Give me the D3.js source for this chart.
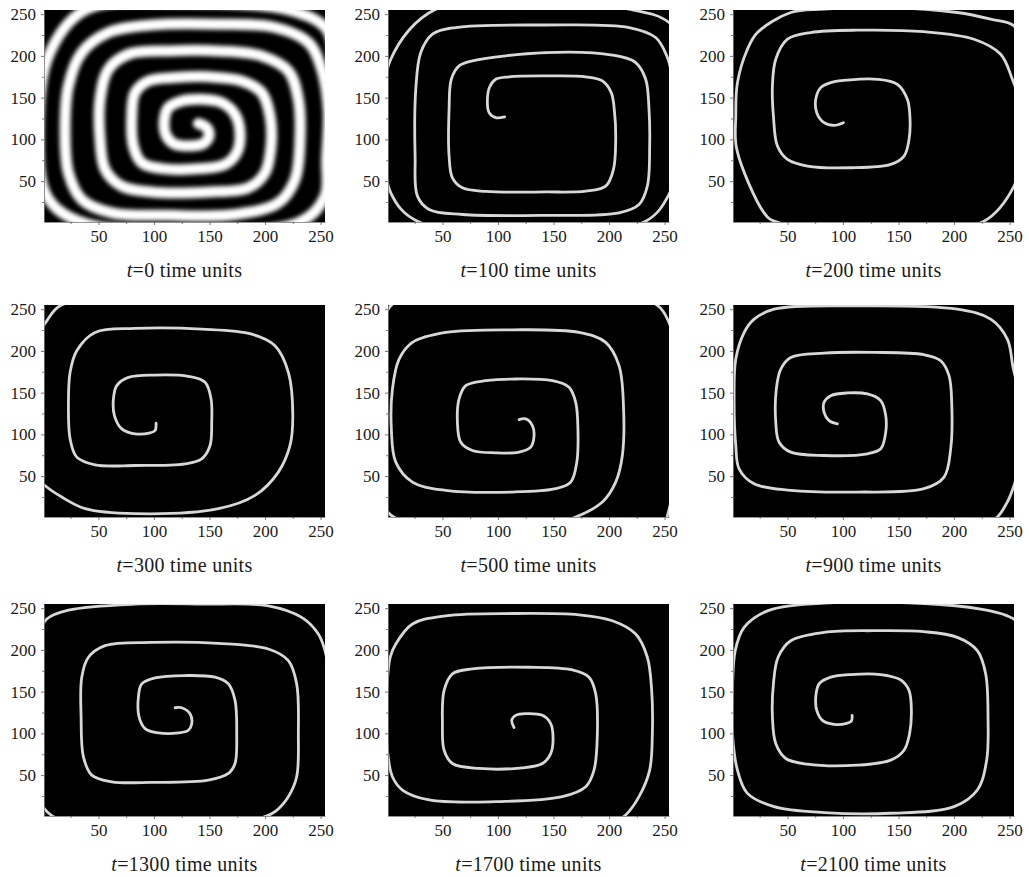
<!DOCTYPE html>
<html>
<head>
<meta charset="utf-8">
<script src="https://cdn.jsdelivr.net/npm/d3@7"></script>
<style>
  html, body { margin: 0; padding: 0; background: #fff; }
  svg { display: block; }
  .tick text { font-family: "Liberation Serif", "DejaVu Serif", serif; font-size: 17px; fill: #1a1a1a; }
  .caption { font-family: "Liberation Serif", "DejaVu Serif", serif; font-size: 20px; letter-spacing: 0.3px; fill: #1a1a1a; }
</style>
</head>
<body>
<svg id="chart" width="1029" height="877"></svg>
<script>
// Snapshot times of the simulation (one panel each)
const times = [0, 100, 200, 300, 500, 900, 1300, 1700, 2100];

// Axis ticks (grid cell index)
const majorTicks = [50, 100, 150, 200, 250];
const minorTicks = [25, 75, 125, 175, 225];

// Wave-front traces, from the spiral tip outward (grid coordinates)
const front_t0 = [[140,119],[147.5,114],[149.6,104],[144.5,95],[131,92],[117.5,95],[110.6,106],[109.4,124],[113,138],[125,146],[143,148],[161,144],[173,130],[177.5,108],[174.5,84],[164,70],[143,65],[107,65],[89,72],[81.5,92],[80,128],[83,156],[95,170],[119,174],[149,175],[179,170],[197,156],[204.5,128],[205.4,92],[200,60],[185,42],[149,37],[98,37],[71,44],[56,64],[51.5,100],[51.5,148],[59,184],[77,202],[113,206],[158,206],[197,200],[221,182],[230,148],[231.5,100],[227,52],[212,24],[173,10],[113,9],[62,12],[35,28],[23,60],[20,108],[23,164],[35,204],[59,228],[98,237],[158,238],[209,234],[239,216],[251,184],[257,136],[255.5,76],[254,32],[233,2],[143,-12],[32,2],[3.5,32],[-4,108],[5,200],[38,255],[131,264],[224,254],[255.5,232],[263,188]];
const front_t100 = [[106,127],[98,126],[92,132],[90.5,148],[92.6,163],[98,172],[110,175],[143,176],[179,175],[194,170],[202,156],[205,132],[206,100],[204,64],[197,44],[179,38],[143,37],[89,37.6],[68,42],[59,54],[56,80],[56,136],[58,172],[65,188],[77,194],[143,204],[203,201],[224,192],[233,172],[236,136],[236.6,92],[234.5,44],[227,22],[209,12],[143,9],[68,10],[38,16],[27.5,32],[25.4,80],[26,160],[30.5,204],[41,226],[62,234],[143,237],[218,234],[242,222],[252,200],[256,182],[264,140],[265,90],[254,34],[233,2],[143,-12],[27.5,2],[3.5,36],[-3,110],[3.5,196],[44,256],[143,262],[218,256],[254,240],[270,200]];
const front_t200 = [[100.4,120],[92,116.8],[83,120],[76.4,132],[75.5,148],[80,162],[89,168],[104,171],[131,172],[149,166],[158,148],[160.4,124],[159.5,100],[155,80],[143,70],[107,66],[68,68],[50,76],[41,92],[37.4,128],[36.5,164],[39.5,196],[50,220],[71,228],[113,230.8],[173,229],[218,220],[242,202],[252.5,172],[261,136],[262,88],[254,44],[227,2],[143,-12],[38,2],[29,12],[4.4,88],[3.5,128],[5,168],[14,208],[23,228],[53,252],[83,256],[143,258],[203,252],[233,244],[254,236],[265,200]];
const front_t300 = [[101.9,113.3],[101,104.6],[96.5,101.8],[83,100.6],[71,106.6],[64.4,122.5],[63.5,142.4],[66.5,158.4],[77,168.3],[101,171.1],[131,169.5],[146,162.4],[151.4,142.4],[152,114.5],[150.5,86.7],[143,70.7],[128,64.7],[83,62.7],[47,63.5],[30.5,72.7],[24.5,94.6],[23,134.5],[24.5,174.3],[30.5,200.2],[47,222.1],[83,226.9],[143,226.1],[188,220.1],[209,206.2],[221,174.3],[225,122.5],[222.5,86.7],[212,54.8],[191,26.9],[158,11],[83,5],[38,11],[17,24.9],[3.5,36.9],[-7,50.8],[-17,114],[-12,200],[3.5,236],[15.5,254],[80,272]];
const front_t500 = [[119,117.7],[125,118.5],[131,110.6],[132.5,98.6],[129.5,84.7],[119,78.7],[98,77.9],[77,80.7],[66.5,90.6],[63.5,114.5],[65,142.4],[71,158.4],[89,164.3],[113,166.3],[149,164.3],[164,156.4],[170,138.4],[172,106.6],[171,66.7],[165.5,42.8],[152,34.9],[113,30.9],[53,32.9],[23,42.8],[8,66.7],[4,106.6],[5,154.4],[11,190.2],[23,210.2],[53,222.1],[113,225.3],[173,222.1],[197,210.2],[209,182.3],[213,134.5],[212,74.7],[206,42.8],[194,18.9],[170,1],[128,-13],[53,-13],[4,3],[-10,35],[-16,114.5],[-14,200],[12,264],[113,270],[203,266],[242,256],[254,234],[262,190],[265,120],[262,60],[255,15],[251,-5]];
const front_t900 = [[95,112.5],[87.5,116.5],[83,126.5],[83,138.4],[89,146.4],[104,149.6],[122,148.4],[134,140.4],[138.5,122.5],[138.5,102.6],[134,82.7],[122,76.7],[83,74.7],[53,78.7],[42.5,90.6],[39.5,114.5],[40,154.4],[44,178.3],[53,192.2],[83,197.4],[128,198.2],[173,195.4],[188,188.2],[195.5,170.3],[198,134.5],[197,82.7],[191,48.8],[173,34.9],[113,30.9],[53,32.9],[20,40.8],[6.5,58.8],[3.5,86.7],[2,142.4],[3.5,190.2],[11,222],[20,238],[38,250],[113,254],[203,250],[233,238],[248,214],[253.4,178.3],[261,134.5],[261,74.7],[254,38.8],[248,18.9],[239,1],[225,-10]];
const front_t1300 = [[119,130.7],[125,130.7],[132.5,123.6],[134,111.6],[131,103.7],[122,100.5],[104,100.5],[92,105.7],[86.6,119.6],[86,143.4],[89,159.3],[101,166.5],[128,169.3],[155,167.3],[167,159.3],[173,139.5],[174.5,99.7],[173,63.9],[167,52],[149,44],[98,41.3],[62,42],[44,50],[36.5,71.9],[34.4,119.6],[35,167.3],[41,191.2],[56,205.1],[98,209],[158,207.9],[203,201.1],[221,187.2],[228.5,159.3],[230,99.7],[228.5,48],[221,24.2],[209,6.3],[200,0.3],[158,-11.6],[53,-11.6],[8,1.5],[-4,24],[-8.5,119.6],[-4,219],[3.5,237],[23,247.6],[83,254.8],[143,254.8],[203,252.8],[233,238.9],[248,219],[254,199],[260,159]];
const front_t1700 = [[114.5,106.9],[112.4,115.6],[116,121.6],[125,123.6],[140,121.6],[147.5,111.6],[149.6,91.7],[147.5,75.8],[140,63.9],[122,58.7],[83,58],[59,63.9],[51.5,79.8],[50,111.6],[51.5,151.4],[59,171.3],[77,177.2],[128,179.2],[167,176],[182,167.3],[188,147.4],[189.5,99.7],[186.5,56],[179,36.1],[158,24.2],[98,18.2],[38,20.2],[14,32.1],[5,48],[0.5,79.8],[-0.4,139.5],[3,191.2],[8,207],[23,231],[53,240.9],[113,243.6],[173,242],[203,234.9],[224,219],[234.5,191.2],[238.4,151.4],[239,99.7],[236.6,56],[227,24.2],[215,2.3],[200,-10]];
const front_t2100 = [[108.2,121.6],[107.6,114.8],[102.5,111.6],[92,110.8],[81.5,115.6],[76.4,127.5],[75.5,143.4],[78.5,159.3],[89,167.3],[107,170.5],[134,170.5],[152,164.1],[159.5,151.4],[161.6,127.5],[160,99.7],[155,79.8],[143,67.9],[113,61.9],[68,63.1],[48.5,69.9],[39.5,87.8],[36.5,119.6],[37.4,159.3],[41.6,191.2],[53,211],[83,221],[128,223],[173,221.8],[203,215],[221,199.1],[228.5,171.3],[230.6,119.6],[229.4,67.9],[221,32.1],[200,12.2],[143,4.3],[83,5.1],[38,12.2],[14,28.1],[5,56],[0.5,99.7],[0.5,151.4],[3,199.1],[11,227],[32,246.8],[83,256],[173,255.6],[224,248.8],[248,240.8],[255.5,235],[263,215]];

const fronts = [front_t0, front_t100, front_t200, front_t300, front_t500, front_t900, front_t1300, front_t1700, front_t2100];

// Panel layout
const colLeft = [44, 388, 733];
const rowTop = [10, 305, 604];
const plotW = 281, plotH = 212;

const svg = d3.select("#chart");
const defs = svg.append("defs");

defs.append("filter").attr("id", "softBand")
  .attr("x", "-10%").attr("y", "-10%").attr("width", "120%").attr("height", "120%")
  .append("feGaussianBlur").attr("stdDeviation", 2.2);
defs.append("filter").attr("id", "softLine")
  .attr("x", "-10%").attr("y", "-10%").attr("width", "120%").attr("height", "120%")
  .append("feGaussianBlur").attr("stdDeviation", 0.55);

times.forEach((t, i) => {
  const col = i % 3, row = Math.floor(i / 3);
  const x0 = colLeft[col], y0 = rowTop[row];

  const x = d3.scaleLinear().domain([1, 254]).range([0, plotW]);
  const y = d3.scaleLinear().domain([1, 255]).range([plotH, 0]);

  const g = svg.append("g").attr("transform", `translate(${x0},${y0})`);

  defs.append("clipPath").attr("id", `clip${i}`)
    .append("rect").attr("width", plotW).attr("height", plotH);

  g.append("rect").attr("width", plotW).attr("height", plotH).attr("fill", "#000");

  const line = d3.line()
    .x(d => x(d[0])).y(d => y(d[1]))
    .curve(d3.curveCatmullRom.alpha(0.5));

  const plot = g.append("g").attr("clip-path", `url(#clip${i})`);
  if (t === 0) {
    plot.append("path").datum(fronts[i]).attr("d", line)
      .attr("fill", "none").attr("stroke", "#fff").attr("stroke-width", 11)
      .attr("stroke-linecap", "round").attr("stroke-linejoin", "round")
      .attr("filter", "url(#softBand)");
  } else {
    plot.append("path").datum(fronts[i]).attr("d", line)
      .attr("fill", "none").attr("stroke", "#d8d8d8").attr("stroke-width", 2.8)
      .attr("stroke-linecap", "round").attr("stroke-linejoin", "round")
      .attr("filter", "url(#softLine)");
  }

  // x axis
  const gx = g.append("g").attr("transform", `translate(0,${plotH})`);
  gx.call(d3.axisBottom(x).tickValues(majorTicks).tickSize(3).tickPadding(5).tickSizeOuter(0));
  gx.append("g").call(d3.axisBottom(x).tickValues(minorTicks).tickSize(2).tickFormat("").tickSizeOuter(0))
    .select(".domain").remove();

  // y axis
  const gy = g.append("g");
  gy.call(d3.axisLeft(y).tickValues(majorTicks).tickSize(3).tickPadding(5).tickSizeOuter(0));
  gy.append("g").call(d3.axisLeft(y).tickValues(minorTicks).tickSize(2).tickFormat("").tickSizeOuter(0))
    .select(".domain").remove();

  g.selectAll(".domain").attr("stroke", "#777").attr("stroke-width", 0.8);
  g.selectAll(".tick line").attr("stroke", "#555").attr("stroke-width", 0.8);

  // caption
  const cap = g.append("text").attr("class", "caption")
    .attr("x", plotW / 2).attr("y", plotH + 55).attr("text-anchor", "middle");
  cap.append("tspan").attr("font-style", "italic").text("t");
  cap.append("tspan").text(`=${t} time units`);
});
</script>
</body>
</html>
